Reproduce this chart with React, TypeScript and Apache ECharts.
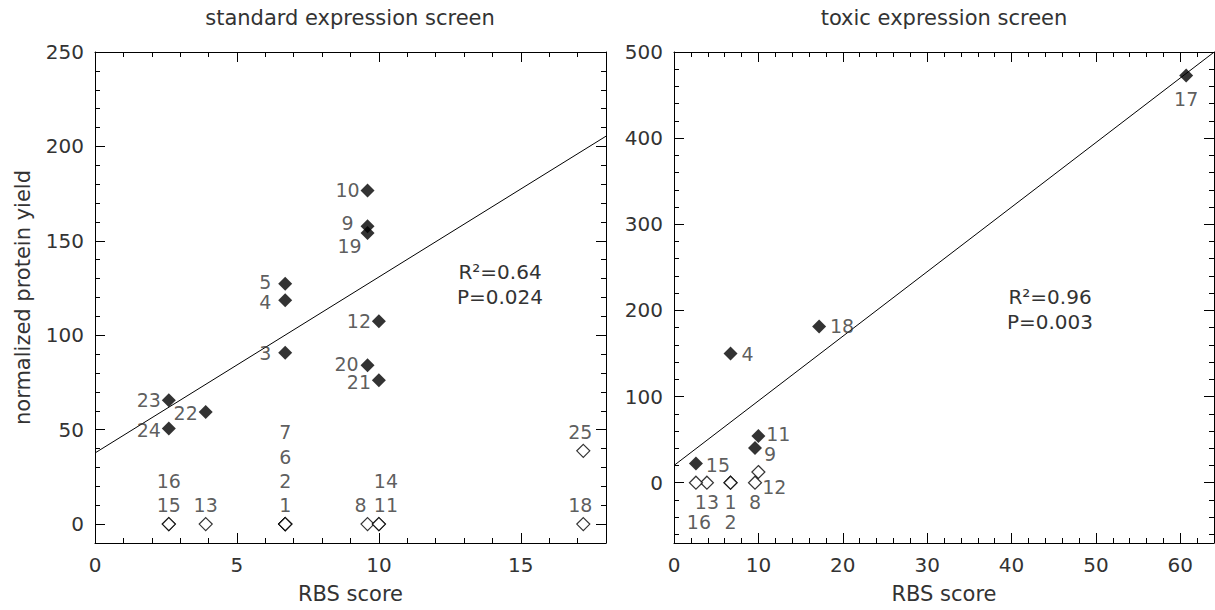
import React, { useEffect, useRef } from "react";
import * as echarts from "echarts";

// ---------- data: standard expression screen ----------
const stdIds = [1, 2, 3, 4, 5, 6, 7, 8, 9, 10, 11, 12, 13, 14, 15, 16, 18, 19, 20, 21, 22, 23, 24, 25];
const stdRbs = [6.7, 6.7, 6.7, 6.7, 6.7, 6.7, 6.7, 9.6, 9.6, 9.6, 10.0, 10.0, 3.9, 10.0, 2.6, 2.6, 17.2, 9.6, 9.6, 10.0, 3.9, 2.6, 2.6, 17.2];
const stdYield = [0, 0, 90.8, 118.5, 127.3, 0, 0, 0, 157.7, 176.7, 0, 107.4, 0, 0, 0, 0, 0, 154.1, 84.1, 76.2, 59.4, 65.6, 50.6, 38.8];
const stdFilled = [0, 0, 1, 1, 1, 0, 0, 0, 1, 1, 0, 1, 0, 0, 0, 0, 0, 1, 1, 1, 1, 1, 1, 0];
const stdStats = ["R²=0.64", "P=0.024"];

// ---------- data: toxic expression screen ----------
const toxIds = [1, 2, 4, 8, 9, 11, 12, 13, 15, 16, 17, 18];
const toxRbs = [6.7, 6.7, 6.7, 9.6, 9.6, 10.0, 10.0, 3.9, 2.6, 2.6, 60.7, 17.2];
const toxYield = [0, 0, 149.9, 0, 40.4, 54.1, 12.4, 0, 22.2, 0, 472.7, 181.4];
const toxFilled = [0, 0, 1, 0, 1, 1, 0, 0, 1, 0, 1, 1];
const toxStats = ["R²=0.96", "P=0.003"];

// ---------- tick values ----------
const stdXTicks = [0, 5, 10, 15];
const stdYTicks = [0, 50, 100, 150, 200, 250];
const toxXTicks = [0, 10, 20, 30, 40, 50, 60];
const toxYTicks = [0, 100, 200, 300, 400, 500];

// ---------- label layout (pixel offsets of each point label, style only) ----------
const stdLabelOffset = [
  [0, -19], [0, -43], [-20, 0], [-20, 2], [-20, -2], [0, -67], [0, -92], [-7, -19],
  [-20, -3], [-20, 0], [7, -19], [-20, 0], [0, -19], [7, -43], [0, -19], [0, -43],
  [-3, -19], [-18, 13], [-21, -1], [-20, 2], [-20, 1], [-20, 0], [-20, 1], [-3, -19],
];
const toxLabelOffset = [
  [0, 19], [0, 39], [17, 0], [0, 19], [15, 6], [20, -2], [16, 15], [0, 19], [22, 1], [3, 39], [0, 23], [23, 0],
];

const FONT = "DejaVu Sans";
const TXT = "#333";

function range(a: number, b: number, step: number, skip: number) {
  const out: number[] = [];
  for (let v = a; v <= b + 1e-9; v += step) {
    const r = Math.round(v * 1000) / 1000;
    if (Math.abs(r / skip - Math.round(r / skip)) > 1e-6) out.push(r);
  }
  return out;
}

function linFit(xs: number[], ys: number[], flags: number[]) {
  const px: number[] = [];
  const py: number[] = [];
  xs.forEach((x, i) => {
    if (flags[i]) {
      px.push(x);
      py.push(ys[i]);
    }
  });
  const n = px.length;
  const mx = px.reduce((a, b) => a + b, 0) / n;
  const my = py.reduce((a, b) => a + b, 0) / n;
  let sxy = 0;
  let sxx = 0;
  for (let i = 0; i < n; i++) {
    sxy += (px[i] - mx) * (py[i] - my);
    sxx += (px[i] - mx) * (px[i] - mx);
  }
  const m = sxy / sxx;
  return { m, b: my - m * mx };
}

function axisSet(kind: "x" | "y", gridIndex: number, min: number, max: number, majors: number[], minors: number[], name?: string) {
  const posA = kind === "x" ? "bottom" : "left";
  const posB = kind === "x" ? "top" : "right";
  const mk = (pos: string, ticks: number[], len: number, line: boolean, labels: boolean) => {
    const ax: any = {
      type: "value",
      gridIndex,
      min,
      max,
      position: pos,
      splitLine: { show: false },
      axisLine: { show: line, onZero: false, lineStyle: { color: "#000", width: 1 } },
      axisTick: { show: true, inside: true, length: len, customValues: ticks, lineStyle: { color: "#000", width: 1 } },
      axisLabel: labels
        ? { show: true, customValues: majors, color: TXT, fontFamily: FONT, fontSize: 20, margin: kind === "x" ? 12 : 11 }
        : { show: false },
    };
    if (labels && name) {
      ax.name = name;
      ax.nameLocation = "middle";
      ax.nameGap = kind === "x" ? 40 : 62;
      ax.nameTextStyle = { color: TXT, fontFamily: FONT, fontSize: 21 };
    }
    return ax;
  };
  return [mk(posA, majors, 10, true, true), mk(posA, minors, 5, false, false), mk(posB, majors, 10, true, false), mk(posB, minors, 5, false, false)];
}

function pointSeries(gi: number, ids: number[], xs: number[], ys: number[], flags: number[], offs: number[][], filled: boolean) {
  const data: any[] = [];
  ids.forEach((id, i) => {
    if (!!flags[i] === filled) {
      data.push({ value: [xs[i], ys[i]], name: String(id), label: { offset: offs[i] } });
    }
  });
  return {
    type: "scatter",
    xAxisIndex: gi * 4,
    yAxisIndex: gi * 4,
    symbol: "diamond",
    symbolSize: filled ? 14 : 13,
    silent: true,
    z: filled ? 4 : 3,
    itemStyle: filled ? { color: "#000" } : { color: "#fff", borderColor: "#000", borderWidth: 1.2 },
    label: {
      show: true,
      position: "inside",
      formatter: "{b}",
      color: TXT,
      fontFamily: FONT,
      fontSize: 19,
      lineHeight: 14,
      align: "center",
      verticalAlign: "middle",
    },
    data,
  };
}

function fitSeries(gi: number, xs: number[], ys: number[], flags: number[], xmin: number, xmax: number) {
  const f = linFit(xs, ys, flags);
  return {
    type: "line",
    xAxisIndex: gi * 4,
    yAxisIndex: gi * 4,
    symbol: "none",
    silent: true,
    clip: true,
    z: 2,
    lineStyle: { color: "#000", width: 1 },
    data: [
      [xmin, f.b + f.m * xmin],
      [xmax, f.b + f.m * xmax],
    ],
  };
}

function text(x: number, y: number, s: string, size = 20) {
  return {
    type: "text",
    x,
    y,
    silent: true,
    style: { text: s, fill: TXT, font: `${size}px "${FONT}"`, textAlign: "center", textVerticalAlign: "middle" },
  };
}

export default function App() {
  const ref = useRef<HTMLDivElement>(null);
  useEffect(() => {
    const chart = echarts.init(ref.current as HTMLDivElement, null, { renderer: "svg" });
    const option: any = {
      animation: false,
      backgroundColor: "#fff",
      grid: [
        { left: 95, top: 52, width: 511, height: 491 },
        { left: 674, top: 52, width: 540, height: 491 },
      ],
      xAxis: [
        ...axisSet("x", 0, 0, 18, stdXTicks, range(0, 18, 1, 5), "RBS score"),
        ...axisSet("x", 1, 0, 64, toxXTicks, range(0, 64, 2, 10), "RBS score"),
      ],
      yAxis: [
        ...axisSet("y", 0, -10, 250, stdYTicks, range(-10, 250, 10, 50), "normalized protein yield"),
        ...axisSet("y", 1, -70, 500, toxYTicks, range(-60, 500, 20, 100)),
      ],
      series: [
        fitSeries(0, stdRbs, stdYield, stdFilled, 0, 18),
        pointSeries(0, stdIds, stdRbs, stdYield, stdFilled, stdLabelOffset, false),
        pointSeries(0, stdIds, stdRbs, stdYield, stdFilled, stdLabelOffset, true),
        fitSeries(1, toxRbs, toxYield, toxFilled, 0, 64),
        pointSeries(1, toxIds, toxRbs, toxYield, toxFilled, toxLabelOffset, false),
        pointSeries(1, toxIds, toxRbs, toxYield, toxFilled, toxLabelOffset, true),
      ],
      graphic: [
        text(350, 18, "standard expression screen", 21),
        text(944, 18, "toxic expression screen", 21),
        text(500, 272, stdStats[0]),
        text(500, 297, stdStats[1]),
        text(1050, 297, toxStats[0]),
        text(1050, 322, toxStats[1]),
      ],
    };
    chart.setOption(option);
    return () => chart.dispose();
  }, []);
  return <div ref={ref} style={{ position: "fixed", left: 0, top: 0, width: 1215, height: 610, background: "#fff" }} />;
}
